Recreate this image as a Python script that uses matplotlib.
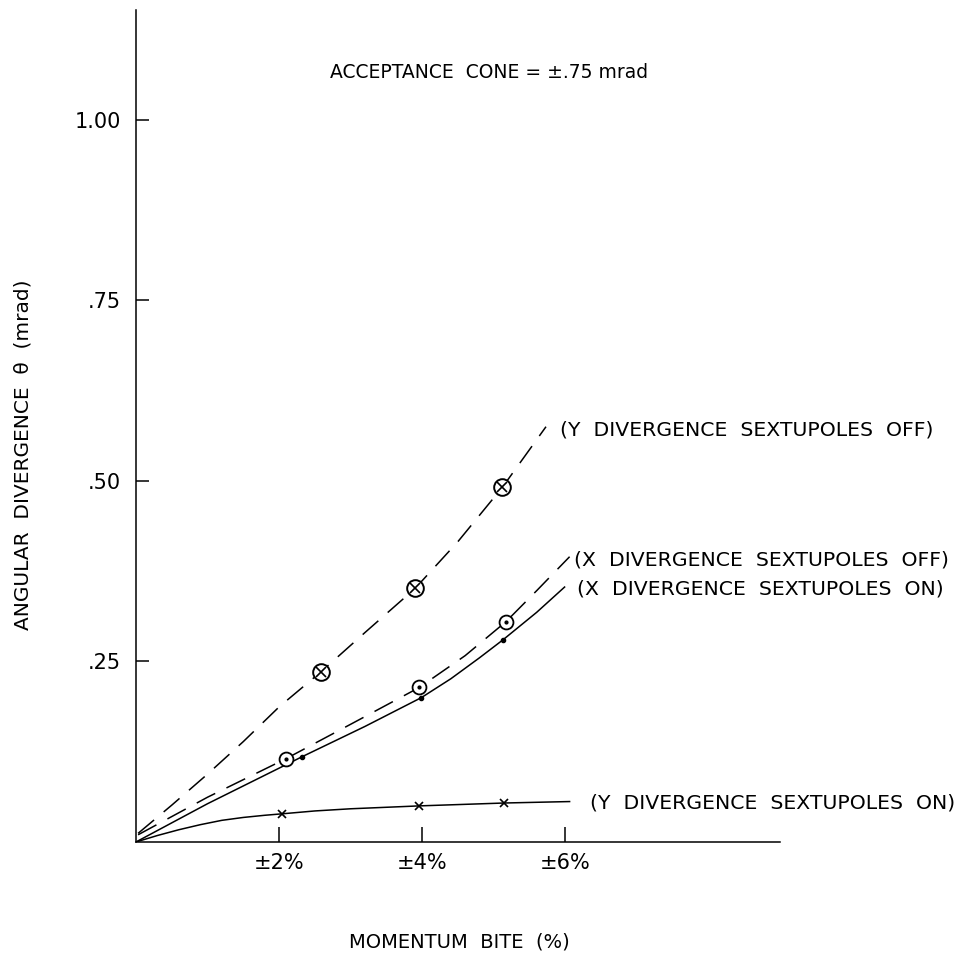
import numpy as np
import matplotlib
matplotlib.use("Agg")
import matplotlib.pyplot as plt

plt.rcParams['font.family'] = ['DejaVu Sans']
plt.rcParams['lines.scale_dashes'] = False

# measured points (momentum bite %, divergence mrad)
y_off_x = [2.59, 3.90, 5.12]
y_off_y = [0.236, 0.351, 0.491]
x_off_x = [2.09, 3.96, 5.17]
x_off_y = [0.115, 0.214, 0.305]
x_on_x = [2.32, 3.99, 5.13]
x_on_y = [0.118, 0.200, 0.280]
y_on_x = [2.04, 3.96, 5.15]
y_on_y = [0.039, 0.050, 0.054]

# hand-drawn fit curves
y_off_cx = [0.03, 0.5, 1.0, 1.5, 2.0, 2.59, 3.2, 3.9, 4.5, 5.12, 5.73]
y_off_cy = [0.012, 0.051, 0.094, 0.139, 0.187, 0.236, 0.290, 0.351, 0.416, 0.491, 0.575]
x_off_cx = [0.03, 1.0, 2.09, 3.0, 3.96, 4.6, 5.17, 5.6, 6.06]
x_off_cy = [0.010, 0.062, 0.115, 0.163, 0.214, 0.258, 0.305, 0.348, 0.395]
x_on_cx = [0, 1.0, 2.32, 3.2, 3.99, 4.4, 4.8, 5.13, 5.6, 5.99]
x_on_cy = [0, 0.053, 0.118, 0.160, 0.200, 0.226, 0.255, 0.280, 0.318, 0.353]
y_on_cx = [0, 0.3, 0.6, 0.9, 1.2, 1.5, 1.8, 2.04, 2.5, 3.0, 3.96, 5.15, 6.06]
y_on_cy = [0, 0.009, 0.017, 0.024, 0.030, 0.034, 0.037, 0.039, 0.043, 0.046, 0.050, 0.054, 0.056]

xticks = [2, 4, 6]
xtick_labels = ['±2%', '±4%', '±6%']
yticks = [0.25, 0.50, 0.75, 1.00]
ytick_labels = ['.25', '.50', '.75', '1.00']

fig = plt.figure(figsize=(9.67, 9.59), dpi=100)
ax = fig.add_axes([0.1406, 0.122, 0.666, 0.8676])

lw = 1.1
dash = (0, (15, 9))
ax.plot(y_off_cx, y_off_cy, color='k', lw=lw, ls=dash)
ax.plot(x_off_cx, x_off_cy, color='k', lw=lw, ls=dash)
ax.plot(x_on_cx, x_on_cy, color='k', lw=lw)
ax.plot(y_on_cx, y_on_cy, color='k', lw=lw)

# circle with cross
ax.plot(y_off_x, y_off_y, 'o', ms=12, mfc='white', mec='k', mew=1.4)
ax.plot(y_off_x, y_off_y, 'x', ms=7, mec='k', mew=1.2)
# circle with dot
ax.plot(x_off_x, x_off_y, 'o', ms=10, mfc='white', mec='k', mew=1.3)
ax.plot(x_off_x, x_off_y, '.', ms=4, color='k')
ax.plot(x_on_x, x_on_y, '.', ms=6, color='k')
ax.plot(y_on_x, y_on_y, 'x', ms=6, mec='k', mew=1.2)

lab = dict(fontsize=14.7, va='center', ha='left')
ax.text(5.92, 0.571, '(Y  DIVERGENCE  SEXTUPOLES  OFF)', **lab)
ax.text(6.12, 0.390, '(X  DIVERGENCE  SEXTUPOLES  OFF)', **lab)
ax.text(6.17, 0.350, '(X  DIVERGENCE  SEXTUPOLES  ON)', **lab)
ax.text(6.34, 0.054, '(Y  DIVERGENCE  SEXTUPOLES  ON)', **lab)

ax.set_xlim(0, 9.0)
ax.set_ylim(0, 1.152)
ax.spines['top'].set_visible(False)
ax.spines['right'].set_visible(False)
ax.spines['left'].set_linewidth(1.1)
ax.spines['bottom'].set_linewidth(1.1)

ax.set_xticks(xticks)
ax.set_xticklabels(xtick_labels, fontsize=15)
ax.set_yticks(yticks)
ax.set_yticklabels(ytick_labels, fontsize=15)
ax.tick_params(axis='x', direction='in', length=11, width=1.1, pad=8)
ax.tick_params(axis='y', direction='in', length=9, width=1.1, pad=11)

fig.text(489 / 967, 1 - 72 / 959, 'ACCEPTANCE  CONE = ±.75 mrad',
         fontsize=13.5, ha='center', va='center')
fig.text(459 / 967, 1 - 942 / 959, 'MOMENTUM  BITE  (%)',
         fontsize=14, ha='center', va='center')
fig.text(23 / 967, 1 - 455 / 959, 'ANGULAR  DIVERGENCE  θ  (mrad)',
         fontsize=14.5, ha='center', va='center', rotation=90)

fig.savefig('out.png', dpi=100, facecolor='white')
